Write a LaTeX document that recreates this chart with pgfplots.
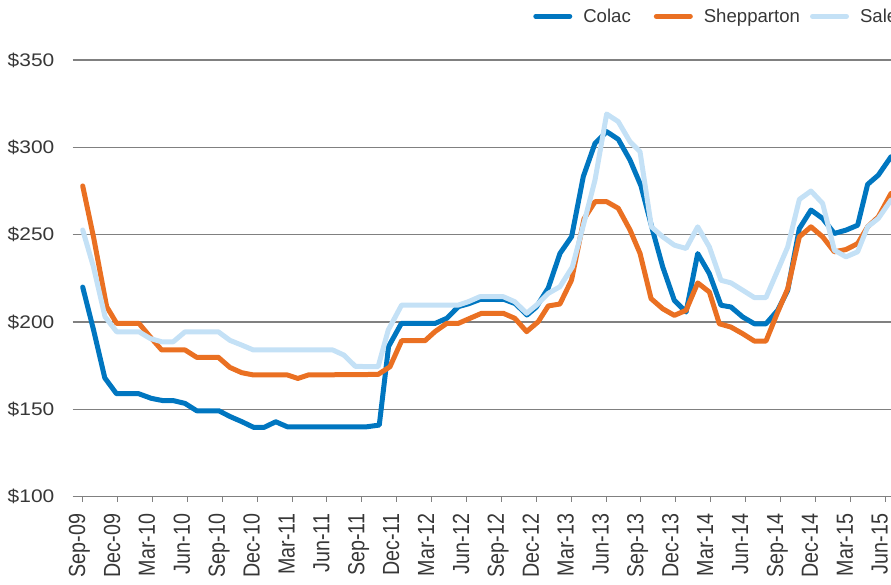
\documentclass[border=0pt]{standalone}
\usepackage{pgfplots}
\pgfplotsset{compat=1.18}
\usepackage{fontspec}
\setmainfont{Liberation Sans}
\newfontfamily\xlabfont{Liberation Sans}[FakeStretch=0.845]
\newfontfamily\ylabfont{Liberation Sans}[FakeStretch=1.15]
\definecolor{colac}{RGB}{0,118,192}
\definecolor{shep}{RGB}{234,112,34}
\definecolor{sale}{RGB}{196,225,246}
\definecolor{gridc}{RGB}{128,128,128}
\definecolor{txt}{RGB}{55,55,55}
\begin{document}
\begin{tikzpicture}
\useasboundingbox (0,0) rectangle (891bp,585bp);
\begin{axis}[
  at={(72.7bp,88.3bp)}, anchor=south west,
  width=818.3bp, height=436.7bp, scale only axis,
  xmin=-0.86, xmax=69.5, ymin=100, ymax=350,
  axis line style={draw=none},
  ymajorgrids, grid style={gridc, line width=1.4bp},
  ytick={100,150,...,350},
  yticklabels={\$100,\$150,\$200,\$250,\$300,\$350},
  ytick style={draw=none},
  xtick={0,3,...,69},
  xticklabels={Sep-09,Dec-09,Mar-10,Jun-10,Sep-10,Dec-10,Mar-11,Jun-11,Sep-11,Dec-11,Mar-12,Jun-12,Sep-12,Dec-12,Mar-13,Jun-13,Sep-13,Dec-13,Mar-14,Jun-14,Sep-14,Dec-14,Mar-15,Jun-15},
  xtick pos=bottom, tick align=outside, major tick length=5bp,
  xtick style={gridc, line width=1bp},
  tick label style={text=txt},
  xticklabel style={font=\xlabfont\fontsize{23.3bp}{26bp}\selectfont,
    yshift=-12bp, xshift=2.5bp, rotate=90, anchor=base east, inner sep=0pt},
  yticklabel style={font=\ylabfont\fontsize{18.2bp}{22bp}\selectfont,
    anchor=east, inner sep=0pt, xshift=-13.2bp},
  every axis plot/.append style={line width=5bp, line join=round, line cap=round},
  legend image code/.code={\draw[#1] (0bp,0bp) -- (34bp,0bp);},
  legend style={at={(0.5626,1.1)}, anchor=west, draw=none, fill=none,
    legend columns=3, font=\fontsize{18.6bp}{22bp}\selectfont, text=txt,
    inner sep=0pt, nodes={inner xsep=4bp, inner ysep=2bp},
    /tikz/every odd column/.append style={column sep=7bp},
    /tikz/column 2/.append style={column sep=19bp},
    /tikz/column 4/.append style={column sep=6bp}},
]
\addplot[colac] coordinates {
(0,220) (0.95,195) (1.9,168) (2.9,159) (4.8,159) (5.9,156.3) (6.9,155) (7.8,155)
(8.8,153.4) (9.8,149.2) (11.7,149.2) (12.7,145.8) (13.7,142.9) (14.7,139.7) (15.6,139.7)
(16.6,142.9) (17.6,140) (24.4,140) (25.5,141) (26.3,186) (27.4,199.2) (30.3,199.2)
(31.3,202.1) (32.3,208.8) (33.2,210.5) (34.2,213) (36.2,213) (37.2,210.5) (38.2,204)
(39.0,208.5) (40.03,219.5) (41.04,239.3) (42.04,248.9) (43.04,283.2) (44.05,302.3)
(45.05,309) (46.05,304.6) (47.06,292.7) (48.0,278) (49.0,252.6) (49.87,231.6)
(50.87,212.4) (51.88,205.7) (52.88,239.2) (53.88,227.7) (54.88,209.6) (55.74,208.6)
(56.75,202.9) (57.75,199) (58.75,199) (59.76,206.7) (60.62,218.2) (61.62,253.5)
(62.62,264.1) (63.62,259.3) (64.63,250.7) (65.63,252.6) (66.63,255.4) (67.49,278.8)
(68.41,284.1) (69.5,294.6)
};
\addplot[shep] coordinates {
(0,277.9) (0.95,248) (2.06,208.8) (2.92,199.2) (4.84,199.2) (5.79,191.6) (6.79,184)
(8.8,184) (9.8,179.8) (11.66,179.8) (12.66,174) (13.67,171) (14.67,169.7) (17.6,169.7)
(18.5,167.7) (19.4,169.7) (25.4,170) (26.42,174.4) (27.42,189.3) (29.43,189.3)
(30.29,194.5) (31.3,199.2) (32.29,199.2) (33.29,202.1) (34.3,205) (36.16,205)
(37.16,202.1) (38.17,194.5) (39.17,200.2) (40.03,209.2) (41.03,210.3) (42.03,224)
(43.1,259) (44.05,268.9) (45.05,268.9) (46.05,265.1) (47.06,252.7) (47.92,239.3)
(48.87,213.4) (49.87,207.6) (50.87,203.8) (51.88,206.7) (52.88,222.4) (53.88,217.2)
(54.74,199) (55.74,197.1) (56.75,193.3) (57.75,189.1) (58.75,189.1) (59.76,205.7)
(60.62,219.1) (61.62,248.8) (62.62,254.5) (63.62,248.8) (64.63,240.2) (65.63,241.5)
(66.63,244.9) (67.49,254.5) (68.41,260.2) (69.5,273.6)
};
\addplot[sale] coordinates {
(0,252.7) (0.92,231.7) (1.92,203) (2.92,194.4) (4.84,194.4) (5.79,190.6) (6.79,188.7)
(7.79,188.7) (8.8,194.4) (11.66,194.4) (12.66,189.5) (13.67,186.8) (14.67,184)
(21.5,184) (22.45,181.1) (23.45,174.6) (25.4,174.4) (26.27,195.4) (27.42,209.7)
(32.29,209.7) (33.15,211.6) (34.15,214.5) (36.16,214.5) (37.16,211.6) (38.17,205)
(39.02,209.7) (40.03,216.4) (41.03,220.2) (42.1,231.5) (43.15,258) (44.05,281.3)
(45.05,319.1) (46.05,314.7) (47.06,303.2) (47.92,297.5) (48.9,254.5) (49.87,248.8)
(50.87,244) (51.88,242.1) (52.88,254.5) (53.88,243) (54.88,223.9) (55.74,222.4)
(56.75,218.2) (57.75,214) (58.75,214) (59.76,229.6) (60.62,243) (61.62,270.2)
(62.62,275) (63.62,267.9) (64.63,241.1) (65.63,237.3) (66.63,240.2) (67.49,254.5)
(68.41,259.3) (69.5,269.8)
};
\legend{Colac,Shepparton,Sale}
\end{axis}
\end{tikzpicture}
\end{document}
